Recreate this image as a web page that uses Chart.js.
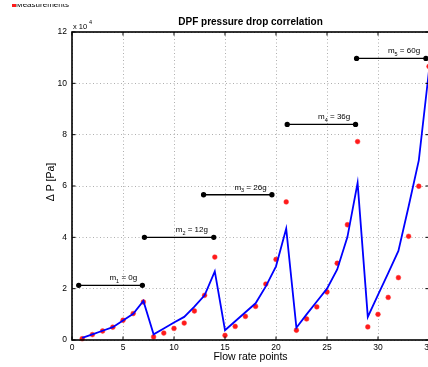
<!DOCTYPE html>
<html>
<head>
<meta charset="utf-8">
<script src="https://cdn.jsdelivr.net/npm/chart.js@4/dist/chart.umd.min.js"></script>
<style>
  html, body { margin: 0; padding: 0; background: #fff; overflow: hidden; }
  #wrap { width: 428px; height: 367px; overflow: hidden; }
  canvas { display: block; }
</style>
</head>
<body>
<div id="wrap"><canvas id="dpfChart" width="440" height="367"></canvas></div>
<script>
// values in units of 10^4 Pa
const flowPoints = [];
for (let i = 1; i <= 35; i++) flowPoints.push(i);

const measured = [0.05, 0.21, 0.35, 0.50, 0.77, 1.03, 1.48,
                  0.12, 0.27, 0.45, 0.66, 1.13, 1.74, 3.23,
                  0.18, 0.53, 0.92, 1.31, 2.18, 3.14, 5.38,
                  0.38, 0.82, 1.29, 1.87, 2.99, 4.49, 7.73,
                  0.51, 1.00, 1.66, 2.43, 4.04, 5.99, 10.66];

const model = [0.08, 0.22, 0.36, 0.50, 0.76, 1.02, 1.52,
               0.22, 0.45, 0.68, 0.90, 1.30, 1.74, 2.67,
               0.38, 0.73, 1.08, 1.43, 2.09, 2.87, 4.34,
               0.48, 1.00, 1.50, 2.00, 2.75, 4.01, 6.12,
               0.90, 1.76, 2.61, 3.47, 5.20, 7.00, 10.50];

// soot loading brackets
const bracketStart = [0.66, 7.1, 12.9, 21.1, 27.9];
const bracketEnd   = [6.9, 13.9, 19.6, 27.8, 34.7];
const bracketLevel = [2.13, 4.0, 5.66, 8.4, 10.97];
const loadings     = ['0g', '12g', '26g', '36g', '60g'];

const xTicks = [0, 5, 10, 15, 20, 25, 30, 35];
const yTicks = [0, 2, 4, 6, 8, 10, 12];

const FONT = '"Liberation Sans", Arial, Helvetica, sans-serif';

const datasets = [];
bracketStart.forEach((s, i) => {
    datasets.push({
        type: 'line',
        data: [{ x: s, y: bracketLevel[i] }, { x: bracketEnd[i], y: bracketLevel[i] }],
        borderColor: '#000',
        borderWidth: 1.3,
        pointRadius: 2,
        pointBackgroundColor: '#000',
        pointBorderColor: '#000',
        clip: false
    });
});
datasets.push({
    type: 'line',
    data: flowPoints.map((x, i) => ({ x: x, y: model[i] })),
    borderColor: '#0000ff',
    borderWidth: 1.8,
    pointRadius: 0,
    tension: 0,
    clip: false
});
datasets.push({
    type: 'scatter',
    data: flowPoints.map((x, i) => ({ x: x, y: measured[i] })),
    pointRadius: 2.4,
    pointBackgroundColor: '#ff1a1a',
    pointBorderColor: '#ff3333',
    pointBorderWidth: 0.5,
    clip: false
});

// frame, inward ticks, texts
const decorPlugin = {
    id: 'decor',
    afterDraw(chart) {
        const ctx = chart.ctx;
        const a = chart.chartArea;
        const xs = chart.scales.x, ys = chart.scales.y;
        ctx.save();
        ctx.strokeStyle = '#000';
        ctx.lineWidth = 1;
        xTicks.forEach(v => {
            const px = xs.getPixelForValue(v);
            ctx.beginPath();
            ctx.moveTo(px, a.bottom); ctx.lineTo(px, a.bottom - 3.5);
            ctx.moveTo(px, a.top); ctx.lineTo(px, a.top + 3.5);
            ctx.stroke();
        });
        yTicks.forEach(v => {
            const py = ys.getPixelForValue(v);
            ctx.beginPath();
            ctx.moveTo(a.left, py); ctx.lineTo(a.left + 3.5, py);
            ctx.moveTo(a.right, py); ctx.lineTo(a.right - 3.5, py);
            ctx.stroke();
        });
        ctx.lineWidth = 1.6;
        ctx.strokeRect(a.left, a.top, a.right - a.left, a.bottom - a.top);

        const cx = (a.left + a.right) / 2;
        ctx.fillStyle = '#000';
        ctx.textAlign = 'center';
        ctx.textBaseline = 'alphabetic';
        ctx.font = 'bold 10px ' + FONT;
        ctx.fillText('DPF pressure drop correlation', cx, 25);

        ctx.font = '10.5px ' + FONT;
        ctx.fillText('Flow rate points', cx, 360);

        ctx.save();
        ctx.translate(54, 182);
        ctx.rotate(-Math.PI / 2);
        ctx.fillText('\u0394 P [Pa]', 0, 0);
        ctx.restore();

        // exponent label
        ctx.textAlign = 'left';
        ctx.font = '7.5px ' + FONT;
        ctx.fillText('x 10', 73, 29);
        ctx.font = '5.5px ' + FONT;
        ctx.fillText('4', 89, 24);

        // bracket labels
        loadings.forEach((m, i) => {
            const mid = (bracketStart[i] + bracketEnd[i]) / 2 + 1.25;
            const px = xs.getPixelForValue(mid);
            const py = ys.getPixelForValue(bracketLevel[i]) - 5;
            const rest = ' = ' + m;
            ctx.font = '8px ' + FONT;
            const wM = ctx.measureText('m').width;
            const wR = ctx.measureText(rest).width;
            ctx.font = '5.5px ' + FONT;
            const wS = ctx.measureText(String(i + 1)).width;
            let x0 = px - (wM + wS + wR) / 2;
            ctx.font = '8px ' + FONT;
            ctx.fillText('m', x0, py);
            ctx.font = '5.5px ' + FONT;
            ctx.fillText(String(i + 1), x0 + wM, py + 2.5);
            ctx.font = '8px ' + FONT;
            ctx.fillText(rest, x0 + wM + wS, py);
        });

        // clipped legend remnant in the corner
        ctx.save();
        ctx.beginPath();
        ctx.rect(0, 4, 120, 4);
        ctx.clip();
        ctx.fillStyle = '#ff1a1a';
        ctx.fillRect(12, 4, 4, 3);
        ctx.fillStyle = '#000';
        ctx.font = '8px ' + FONT;
        ctx.fillText('Measurements', 16, 7);
        ctx.restore();

        ctx.restore();
    }
};

new Chart(document.getElementById('dpfChart'), {
    type: 'line',
    data: { datasets: datasets },
    options: {
        responsive: false,
        animation: false,
        layout: { padding: { left: 50, right: 11, top: 32, bottom: 7 } },
        plugins: {
            legend: { display: false },
            tooltip: { enabled: false },
            title: { display: false }
        },
        scales: {
            x: {
                type: 'linear',
                min: 0,
                max: 35,
                afterFit: s => { s.height = 20; },
                afterBuildTicks: s => { s.ticks = xTicks.map(v => ({ value: v })); },
                ticks: {
                    padding: 3,
                    color: '#000',
                    maxRotation: 0,
                    font: { family: FONT, size: 8.5 }
                },
                grid: { drawTicks: false, color: '#9a9a9a', lineWidth: 0.8 },
                border: { display: false, dash: [1, 2.5] }
            },
            y: {
                type: 'linear',
                min: 0,
                max: 12,
                afterFit: s => { s.width = 22; },
                afterBuildTicks: s => { s.ticks = yTicks.map(v => ({ value: v })); },
                ticks: {
                    padding: 5,
                    color: '#000',
                    font: { family: FONT, size: 8.5 }
                },
                grid: { drawTicks: false, color: '#9a9a9a', lineWidth: 0.8 },
                border: { display: false, dash: [1, 2.5] }
            }
        }
    },
    plugins: [decorPlugin]
});
</script>
</body>
</html>
